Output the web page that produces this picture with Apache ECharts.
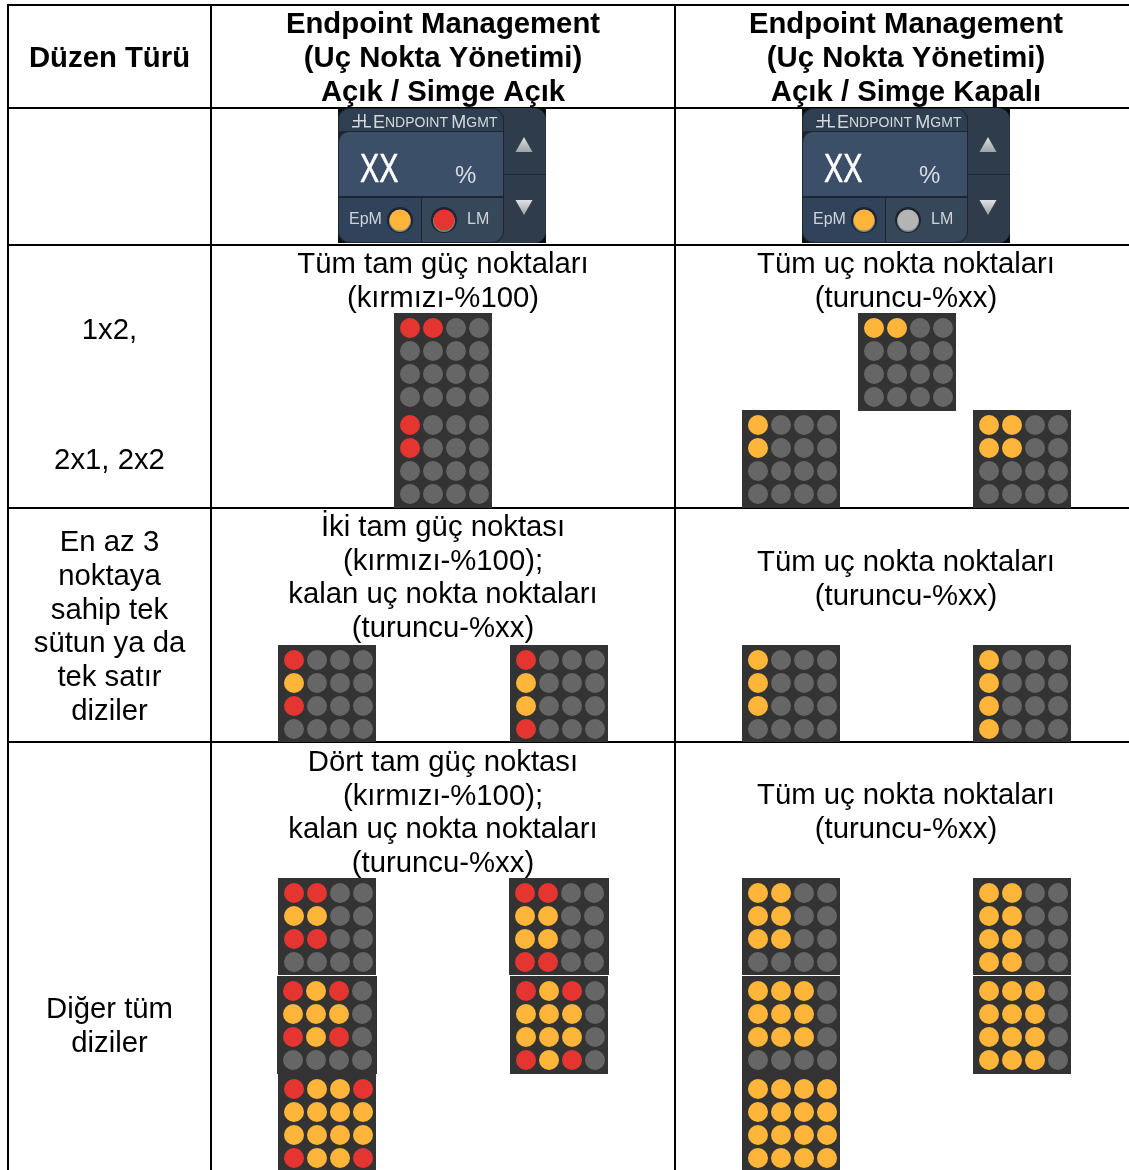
<!DOCTYPE html>
<html>
<head>
<meta charset="utf-8">
<title>Endpoint Management</title>
<style>
  html, body { margin: 0; padding: 0; background: #fff; }
  #main { width: 1129px; height: 1170px; }
</style>
<script src="https://cdn.jsdelivr.net/npm/echarts@6/dist/echarts.min.js"></script>
</head>
<body>
<div id="main"></div>
<script>
// dot patterns, one string per row: R = red, O = orange, G = off
const red1x2 = ["RRGG", "GGGG", "GGGG", "GGGG"];
const red2x1 = ["RGGG", "RGGG", "GGGG", "GGGG"];
const orange1x2 = ["OOGG", "GGGG", "GGGG", "GGGG"];
const orange2x1 = ["OGGG", "OGGG", "GGGG", "GGGG"];
const orange2x2 = ["OOGG", "OOGG", "GGGG", "GGGG"];
const mixed3x1 = ["RGGG", "OGGG", "RGGG", "GGGG"];
const mixed4x1 = ["RGGG", "OGGG", "OGGG", "RGGG"];
const orange3x1 = ["OGGG", "OGGG", "OGGG", "GGGG"];
const orange4x1 = ["OGGG", "OGGG", "OGGG", "OGGG"];
const mixed3x2 = ["RRGG", "OOGG", "RRGG", "GGGG"];
const mixed4x2 = ["RRGG", "OOGG", "OOGG", "RRGG"];
const mixed3x3 = ["RORG", "OOOG", "RORG", "GGGG"];
const mixed4x3 = ["RORG", "OOOG", "OOOG", "RORG"];
const mixed4x4 = ["ROOR", "OOOO", "OOOO", "ROOR"];
const orange3x2 = ["OOGG", "OOGG", "OOGG", "GGGG"];
const orange4x2 = ["OOGG", "OOGG", "OOGG", "OOGG"];
const orange3x3 = ["OOOG", "OOOG", "OOOG", "GGGG"];
const orange4x3 = ["OOOG", "OOOG", "OOOG", "OOOG"];
const orange4x4 = ["OOOO", "OOOO", "OOOO", "OOOO"];

// table text
const headerCol1 = ["Düzen Türü"];
const headerCol2 = ["Endpoint Management", "(Uç Nokta Yönetimi)", "Açık / Simge Açık"];
const headerCol3 = ["Endpoint Management", "(Uç Nokta Yönetimi)", "Açık / Simge Kapalı"];
const row2Col2 = ["Tüm tam güç noktaları", "(kırmızı-%100)"];
const row2Col3 = ["Tüm uç nokta noktaları", "(turuncu-%xx)"];
const row3Col1 = ["En az 3", "noktaya", "sahip tek", "sütun ya da", "tek satır", "diziler"];
const row3Col2 = ["İki tam güç noktası", "(kırmızı-%100);", "kalan uç nokta noktaları", "(turuncu-%xx)"];
const row4Col1 = ["Diğer tüm", "diziler"];
const row4Col2 = ["Dört tam güç noktası", "(kırmızı-%100);", "kalan uç nokta noktaları", "(turuncu-%xx)"];

const RED = "#e53531";
const ORANGE = "#ffb53a";
const OFF = "#666666";
const PANEL = "#333333";
const FONT = "'Liberation Sans', Arial, sans-serif";

// layout: [panel left, panel top, pattern, width, height]
const panels = [
  [394, 313, red1x2, 98, 97], [394, 410, red2x1, 98, 98],
  [858, 313, orange1x2, 98, 98], [742, 410, orange2x1, 98, 98], [973, 410, orange2x2, 98, 98],
  [278, 645, mixed3x1, 98, 97], [510, 645, mixed4x1, 98, 97],
  [742, 645, orange3x1, 98, 97], [973, 645, orange4x1, 98, 97],
  [278, 878, mixed3x2, 98, 97], [509, 878, mixed4x2, 100, 97],
  [277, 976, mixed3x3, 100, 98], [510, 976, mixed4x3, 98, 98], [278, 1074, mixed4x4, 98, 96],
  [742, 878, orange3x2, 98, 97], [973, 878, orange4x2, 98, 97],
  [742, 976, orange3x3, 98, 98], [973, 976, orange4x3, 98, 98], [742, 1074, orange4x4, 98, 96],
];

const dots = { R: [], O: [], G: [] };
panels.forEach(([x, y, pattern]) => {
  pattern.forEach((row, r) => {
    row.split("").forEach((state, c) => {
      dots[state].push([x + 16 + c * 23, y + 15 + r * 23]);
    });
  });
});

// text blocks: [center x, first line center y, line step, lines, bold]
const textBlocks = [
  [109.5, 59, 34, headerCol1, true],
  [443, 25, 34, headerCol2, true],
  [906, 25, 34, headerCol3, true],
  [443, 265, 34, row2Col2, false],
  [906, 265, 34, row2Col3, false],
  [109.5, 331, 34, ["1x2,"], false],
  [109.5, 461, 34, ["2x1, 2x2"], false],
  [109.5, 543, 33.8, row3Col1, false],
  [443, 528, 33.7, row3Col2, false],
  [906, 563, 33.5, row2Col3, false],
  [109.5, 1010, 34, row4Col1, false],
  [443, 763, 33.7, row4Col2, false],
  [906, 796, 34, row2Col3, false],
];

const textData = [];
textBlocks.forEach(([x, y, step, lines, bold]) => {
  lines.forEach((line, i) => textData.push([x, y + i * step, line, bold ? 1 : 0]));
});

// table rules, the right edge has none
const ruleX = [8, 211, 675];
const ruleY = [5, 108, 245, 508, 742];
const ruleData = [];
ruleX.forEach((x) => ruleData.push([x, 4, x, 1170]));
ruleY.forEach((y) => ruleData.push([7, y, 1129, y]));

// Endpoint Mgmt widgets: [left, top, right status color]
const widgets = [
  [338, 108, "#e53531"],
  [802, 108, "#b4b4b4"],
];

function renderWidget(params, api) {
  const o = api.coord([api.value(0), api.value(1)]);
  const x = o[0], y = o[1];
  const lm = widgets[params.dataIndex][2];
  const rect = (rx, ry, w, h, fill, r) => ({
    type: "rect",
    shape: { x: x + rx, y: y + ry, width: w, height: h, r: r || 0 },
    style: { fill: fill },
  });
  const text = (tx, ty, str, size, fill) => ({
    type: "text",
    style: { x: x + tx, y: y + ty, text: str, fontSize: size, fill: fill, fontFamily: FONT, verticalAlign: "middle" },
  });
  const led = (cx, fill) => [
    { type: "circle", shape: { cx: x + cx, cy: y + 112, r: 13 }, style: { fill: "#1c2530" } },
    { type: "circle", shape: { cx: x + cx, cy: y + 113, r: 11 }, style: { fill: "#7d8388" } },
    { type: "circle", shape: { cx: x + cx, cy: y + 112, r: 10.5 }, style: { fill: fill } },
  ];
  const tri = (cy, dir) => ({
    type: "polygon",
    shape: { points: [[x + 186 - 8.5, y + cy - dir * 7.5], [x + 186 + 8.5, y + cy - dir * 7.5], [x + 186, y + cy + dir * 7.5]] },
    style: {
      fill: {
        type: "linear", x: 0, y: 0, x2: 0, y2: 1,
        colorStops: [{ offset: 0, color: "#dfe2e3" }, { offset: 1, color: "#9ba1a6" }],
      },
    },
  });
  const ICON = "#d5d8da";
  return {
    type: "group",
    children: [
      rect(0, 0, 208, 135, "#0c0f12"),
      rect(0, 0, 208, 135, "#2e3c4c", 12),
      rect(166, 66, 42, 1, "#1f2832"),
      tri(36.5, -1),
      tri(99.5, 1),
      rect(0, 0, 166, 135, "#1c2530", 12),
      rect(1, 1, 164, 22, "#2f3f52", [11, 11, 0, 0]),
      rect(1, 24, 164, 64, "#3b5068", [10, 0, 0, 0]),
      rect(1, 90, 82, 44, "#30435b", [0, 0, 0, 11]),
      rect(84, 90, 81, 44, "#37475a", [0, 0, 11, 0]),
      // little endpoint icon
      rect(20, 6, 1.5, 13, ICON),
      rect(26, 6, 1.5, 13, ICON),
      rect(15, 12, 13, 1.5, ICON),
      rect(14, 18, 7, 1.5, ICON),
      rect(26, 18, 7, 1.5, ICON),
      {
        type: "text",
        style: {
          x: x + 35, y: y + 15, verticalAlign: "middle", fontFamily: FONT, fill: "#d5d8da",
          text: "{a|E}{b|NDPOINT} {a|M}{b|GMT}",
          rich: {
            a: { fontSize: 18, fontFamily: FONT, fill: "#d5d8da" },
            b: { fontSize: 14, fontFamily: FONT, fill: "#d5d8da" },
          },
        },
      },
      { type: "text", scaleX: 0.72, originX: x + 22, originY: y + 62,
        style: { x: x + 22, y: y + 63, text: "XX", fontSize: 40, fill: "#ffffff", stroke: "#ffffff", lineWidth: 0.6, fontFamily: FONT, verticalAlign: "middle" } },
      text(117, 68, "%", 24, "#d8dde0"),
      text(11, 112, "EpM", 16, "#d0d4d8"),
      text(129, 112, "LM", 16, "#d0d4d8"),
      ...led(62, ORANGE),
      ...led(106, lm),
    ],
  };
}

const chart = echarts.init(document.getElementById("main"));
chart.setOption({
  animation: false,
  backgroundColor: "#ffffff",
  grid: { left: 0, right: 0, top: 0, bottom: 0 },
  xAxis: { type: "value", min: 0, max: 1129, show: false },
  yAxis: { type: "value", min: 0, max: 1170, inverse: true, show: false },
  series: [
    {
      name: "rules",
      type: "custom",
      coordinateSystem: "cartesian2d",
      data: ruleData,
      silent: true,
      z: 1,
      renderItem(params, api) {
        const a = api.coord([api.value(0), api.value(1)]);
        const b = api.coord([api.value(2), api.value(3)]);
        return { type: "line", shape: { x1: a[0], y1: a[1], x2: b[0], y2: b[1] }, style: { stroke: "#000", lineWidth: 2 } };
      },
    },
    {
      name: "panels",
      type: "custom",
      coordinateSystem: "cartesian2d",
      data: panels.map((p) => [p[0], p[1], p[3], p[4]]),
      silent: true,
      z: 2,
      renderItem(params, api) {
        const a = api.coord([api.value(0), api.value(1)]);
        return { type: "rect", shape: { x: a[0], y: a[1], width: api.value(2), height: api.value(3) }, style: { fill: PANEL } };
      },
    },
    { name: "off", type: "scatter", data: dots.G, symbolSize: 20, itemStyle: { color: OFF, opacity: 1 }, silent: true, z: 3 },
    { name: "orange", type: "scatter", data: dots.O, symbolSize: 20, itemStyle: { color: ORANGE, opacity: 1 }, silent: true, z: 3 },
    { name: "red", type: "scatter", data: dots.R, symbolSize: 20, itemStyle: { color: RED, opacity: 1 }, silent: true, z: 3 },
    {
      name: "widgets",
      type: "custom",
      coordinateSystem: "cartesian2d",
      data: widgets.map((w) => [w[0], w[1]]),
      silent: true,
      z: 4,
      renderItem: renderWidget,
    },
    {
      name: "text",
      type: "custom",
      coordinateSystem: "cartesian2d",
      data: textData,
      silent: true,
      z: 5,
      clip: false,
      renderItem(params, api) {
        const d = textData[params.dataIndex];
        const a = api.coord([d[0], d[1]]);
        return {
          type: "text",
          style: {
            x: a[0], y: a[1], text: d[2], align: "center", verticalAlign: "middle",
            fontFamily: FONT, fontSize: 29.3, fontWeight: d[3] ? "bold" : "normal", fill: "#000",
          },
        };
      },
    },
  ],
});
</script>
</body>
</html>
